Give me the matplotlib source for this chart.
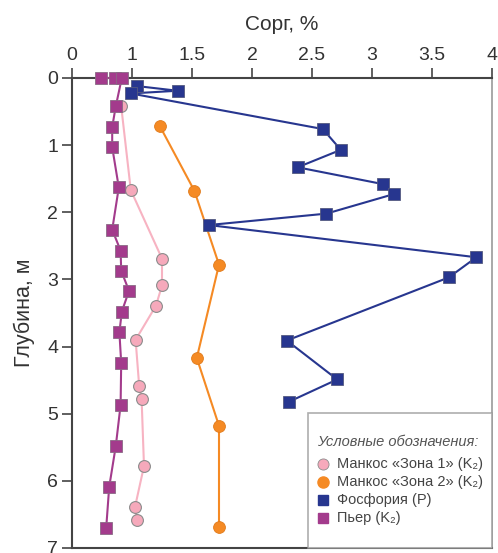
import numpy as np
import matplotlib
matplotlib.use("Agg")
import matplotlib.pyplot as plt
from matplotlib.lines import Line2D

plt.rcParams['font.family'] = ['Liberation Sans', 'DejaVu Sans']

# ---- data (Corg %, depth m) ----
phos_c = [1.04, 1.38, 0.98, 2.59, 2.74, 2.38, 3.09, 3.18, 2.62, 1.64, 3.87, 3.64, 2.29, 2.71, 2.31]
phos_d = [0.12, 0.19, 0.23, 0.76, 1.07, 1.33, 1.58, 1.73, 2.02, 2.19, 2.67, 2.97, 3.91, 4.49, 4.82]

z2_c = [1.23, 1.52, 1.725, 1.54, 1.725, 1.725]
z2_d = [0.71, 1.68, 2.78, 4.17, 5.18, 6.69]

z1_c = [0.82, 0.98, 1.25, 1.25, 1.20, 1.03, 1.06, 1.08, 1.10, 1.025, 1.04]
z1_d = [0.42, 1.67, 2.69, 3.09, 3.39, 3.90, 4.59, 4.78, 5.78, 6.39, 6.59]

pier_c = [0.49, 0.71, 0.83, 0.73, 0.67, 0.67, 0.78, 0.67, 0.81, 0.82, 0.95, 0.83, 0.79, 0.82, 0.81, 0.73, 0.62, 0.57]
pier_d = [0.0, 0.0, 0.0, 0.42, 0.73, 1.03, 1.63, 2.26, 2.57, 2.87, 3.17, 3.48, 3.79, 4.24, 4.87, 5.48, 6.09, 6.70]

xticks = [0, 1, 1.5, 2, 2.5, 3, 3.5, 4]
xtick_labels = ["0", "1", "1.5", "2", "2.5", "3", "3.5", "4"]
yticks = [0, 1, 2, 3, 4, 5, 6, 7]

labels = ["Манкос «Зона 1» (K₂)", "Манкос «Зона 2» (K₂)", "Фосфория (P)", "Пьер (K₂)"]

# ---- colours ----
c_phos = "#27368f"
c_z2 = "#f58a24"
c_z1_line = "#f7b3c2"
c_z1_face = "#f6a9bb"
c_pier = "#a33b8c"
edge_gray = "#8c8c8c"

fig = plt.figure(figsize=(4.98, 5.53), dpi=100)
ax = fig.add_axes([72/498, 5/553, 420/498, 470/553])

def fwd(v):
    v = np.asarray(v, dtype=float)
    return np.where(v < 1, v / 2.0, v - 0.5)

def inv(t):
    t = np.asarray(t, dtype=float)
    return np.where(t < 0.5, t * 2.0, t + 0.5)

ax.set_xscale('function', functions=(fwd, inv))

ax.plot(z1_c, z1_d, color=c_z1_line, lw=1.5, marker='o', ms=8.5,
        mfc=c_z1_face, mec=edge_gray, mew=0.8, zorder=3, clip_on=False)
ax.plot(z2_c, z2_d, color=c_z2, lw=1.5, marker='o', ms=8.5,
        mfc=c_z2, mec="#e07a1a", mew=0.6, zorder=3, clip_on=False)
ax.plot(phos_c, phos_d, color=c_phos, lw=1.5, marker='s', ms=8,
        mfc=c_phos, mec="#555a80", mew=0.6, zorder=4, clip_on=False)
ax.plot(pier_c, pier_d, color=c_pier, lw=1.5, marker='s', ms=8,
        mfc=c_pier, mec="#8a6a85", mew=0.6, zorder=5, clip_on=False)

ax.set_xlim(0, 4)
ax.set_ylim(7, 0)
ax.xaxis.tick_top()
ax.xaxis.set_label_position('top')
ax.set_xticks(xticks)
ax.set_xticklabels(xtick_labels)
ax.set_yticks(yticks)
ax.minorticks_off()
ax.tick_params(axis='both', direction='out', length=7, width=1.2,
               color="#444444", labelsize=14, labelcolor="#333333", pad=3)
ax.set_xlabel("Сорг, %", fontsize=15, color="#333333", labelpad=12)
ax.set_ylabel("Глубина, м", fontsize=15.5, color="#333333", labelpad=9)

for s in ['left', 'top', 'bottom']:
    ax.spines[s].set_color("#444444")
    ax.spines[s].set_linewidth(1.5)
ax.spines['right'].set_color("#9a9a9a")
ax.spines['right'].set_linewidth(1.2)

handles = [
    Line2D([], [], ls='none', marker='o', ms=8, mfc=c_z1_face, mec=edge_gray, mew=0.6),
    Line2D([], [], ls='none', marker='o', ms=8, mfc=c_z2, mec=c_z2),
    Line2D([], [], ls='none', marker='s', ms=7, mfc=c_phos, mec=c_phos),
    Line2D([], [], ls='none', marker='s', ms=7, mfc=c_pier, mec=c_pier),
    Line2D([], [], ls='none', marker=None),
]
leg = ax.legend(handles, labels + [" "], loc='lower right', bbox_to_anchor=(1.0, 0.0),
                borderaxespad=0, fontsize=10.5, frameon=True, fancybox=False,
                handlelength=0.8, handleheight=0.4, handletextpad=0.6,
                labelspacing=0.28, borderpad=0.6, title="\nУсловные обозначения:",
                title_fontproperties={'size': 10.5, 'style': 'italic'},
                alignment='left', labelcolor="#444444")
leg.get_title().set_color("#555555")
leg.get_title().set_linespacing(1.0)
leg.get_texts()[-1].set_fontsize(4)
leg._legend_box.sep = 5.5
leg.get_frame().set_edgecolor("#9a9a9a")
leg.get_frame().set_linewidth(1.2)
leg.set_zorder(10)

fig.savefig("out.png", dpi=100)
